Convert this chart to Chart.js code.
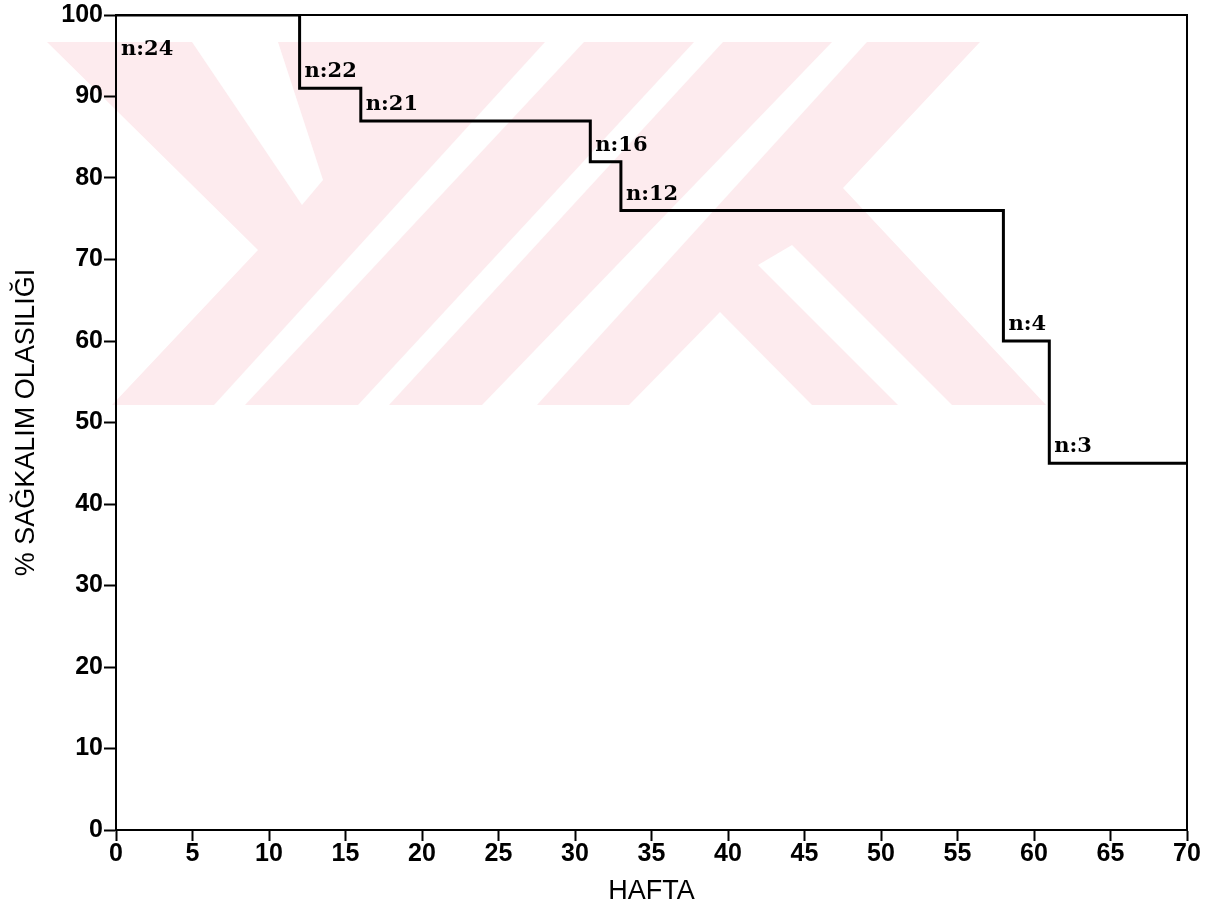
<!DOCTYPE html>
<html>
<head>
<meta charset="utf-8">
<script src="https://cdn.jsdelivr.net/npm/chart.js@4/dist/chart.umd.min.js"></script>
<style>
  html, body { margin: 0; padding: 0; background: #fff; }
  canvas { display: block; }
</style>
</head>
<body>
<canvas id="survivalChart" width="1221" height="910"></canvas>
<script>
// Kaplan-Meier steps (weeks / % survival) and patients at risk
var weeks = [0, 12, 16, 31, 33, 58, 61, 70];
var survival = [100, 91, 87, 82, 76, 60, 45, 45];
var atRisk = ["n:24", "n:22", "n:21", "n:16", "n:12", "n:4", "n:3"];

var xTickValues = [0, 5, 10, 15, 20, 25, 30, 35, 40, 45, 50, 55, 60, 65, 70];
var yTickValues = [0, 10, 20, 30, 40, 50, 60, 70, 80, 90, 100];

var tickFont = { family: "'Liberation Sans Narrow', 'Liberation Sans', sans-serif", size: 25, weight: "bold", lineHeight: 1 };
var titleFont = { family: "'Liberation Sans', Arial, sans-serif", size: 27 };

// faint pink thesis watermark behind the plot
var watermark = {
    id: "watermark",
    beforeDraw: function (chart) {
        var ctx = chart.ctx;
        function poly(pts, color) {
            ctx.beginPath();
            ctx.moveTo(pts[0][0], pts[0][1]);
            for (var i = 1; i < pts.length; i++) ctx.lineTo(pts[i][0], pts[i][1]);
            ctx.closePath();
            ctx.fillStyle = color;
            ctx.fill();
        }
        ctx.save();
        poly([[47, 42], [980, 42], [843, 188], [1046, 405], [112, 405], [258, 250]], "#fdebee");
        var white = "#ffffff";
        poly([[192, 42], [278, 42], [323, 180], [302, 205]], white);
        poly([[545, 42], [584, 42], [245, 405], [214, 405]], white);
        poly([[694, 42], [723, 42], [389, 405], [358, 405]], white);
        poly([[832, 42], [867, 42], [537, 405], [482, 405]], white);
        poly([[629, 405], [720, 312], [812, 405]], white);
        poly([[758, 265], [792, 245], [952, 405], [898, 405]], white);
        ctx.restore();
    }
};

// "n:xx" at-risk labels next to each drop
var riskLabels = {
    id: "riskLabels",
    afterDatasetsDraw: function (chart) {
        var ctx = chart.ctx;
        var xs = chart.scales.x, ys = chart.scales.y;
        ctx.save();
        ctx.font = "bold 21px 'DejaVu Serif', serif";
        ctx.fillStyle = "#000";
        ctx.textAlign = "left";
        ctx.textBaseline = "alphabetic";
        for (var i = 0; i < atRisk.length; i++) {
            var px = xs.getPixelForValue(weeks[i]) + 5;
            var py = ys.getPixelForValue(survival[i]);
            py = i === 0 ? py + 40 : py - 11;
            ctx.fillText(atRisk[i], px, py);
        }
        ctx.restore();
    }
};

var points = weeks.map(function (w, i) { return { x: w, y: survival[i] }; });

var config = {
    type: "line",
    data: {
        datasets: [{
            data: points,
            stepped: "before",
            borderColor: "#000",
            borderWidth: 3,
            pointRadius: 0,
            fill: false
        }]
    },
    options: {
        responsive: false,
        animation: false,
        layout: { padding: { top: 15, right: 34, left: 0, bottom: 0 } },
        plugins: { legend: { display: false }, tooltip: { enabled: false } },
        scales: {
            x: {
                type: "linear",
                position: "bottom",
                min: 0,
                max: 70,
                afterBuildTicks: function (s) { s.ticks = xTickValues.map(function (v) { return { value: v }; }); },
                afterFit: function (s) { s.height = 80; },
                border: { display: true, color: "#000", width: 2 },
                grid: { drawOnChartArea: false, drawTicks: true, tickLength: 11, tickWidth: 2, tickColor: "#000" },
                ticks: { font: tickFont, color: "#000", padding: 1, maxRotation: 0, autoSkip: false },
                title: { display: true, text: "HAFTA", font: titleFont, color: "#000", padding: { top: 0, bottom: 2 } }
            },
            y: {
                type: "linear",
                position: "left",
                min: 0,
                max: 100,
                afterBuildTicks: function (s) { s.ticks = yTickValues.map(function (v) { return { value: v }; }); },
                afterFit: function (s) { s.width = 116; },
                border: { display: true, color: "#000", width: 2 },
                grid: { drawOnChartArea: false, drawTicks: true, tickLength: 12, tickWidth: 2, tickColor: "#000" },
                ticks: { font: tickFont, color: "#000", padding: 1, autoSkip: false },
                title: { display: true, text: "% SAĞKALIM OLASILIĞI", font: titleFont, color: "#000", padding: { top: 10, bottom: 0 } }
            },
            x2: {
                type: "linear",
                position: "top",
                min: 0,
                max: 70,
                afterFit: function (s) { s.height = 0; },
                border: { display: true, color: "#000", width: 2 },
                grid: { display: false },
                ticks: { display: false }
            },
            y2: {
                type: "linear",
                position: "right",
                min: 0,
                max: 100,
                afterFit: function (s) { s.width = 0; },
                border: { display: true, color: "#000", width: 2 },
                grid: { display: false },
                ticks: { display: false }
            }
        }
    },
    plugins: [watermark, riskLabels]
};

var ctx = document.getElementById("survivalChart").getContext("2d");
var chart = new Chart(ctx, config);
</script>
</body>
</html>
